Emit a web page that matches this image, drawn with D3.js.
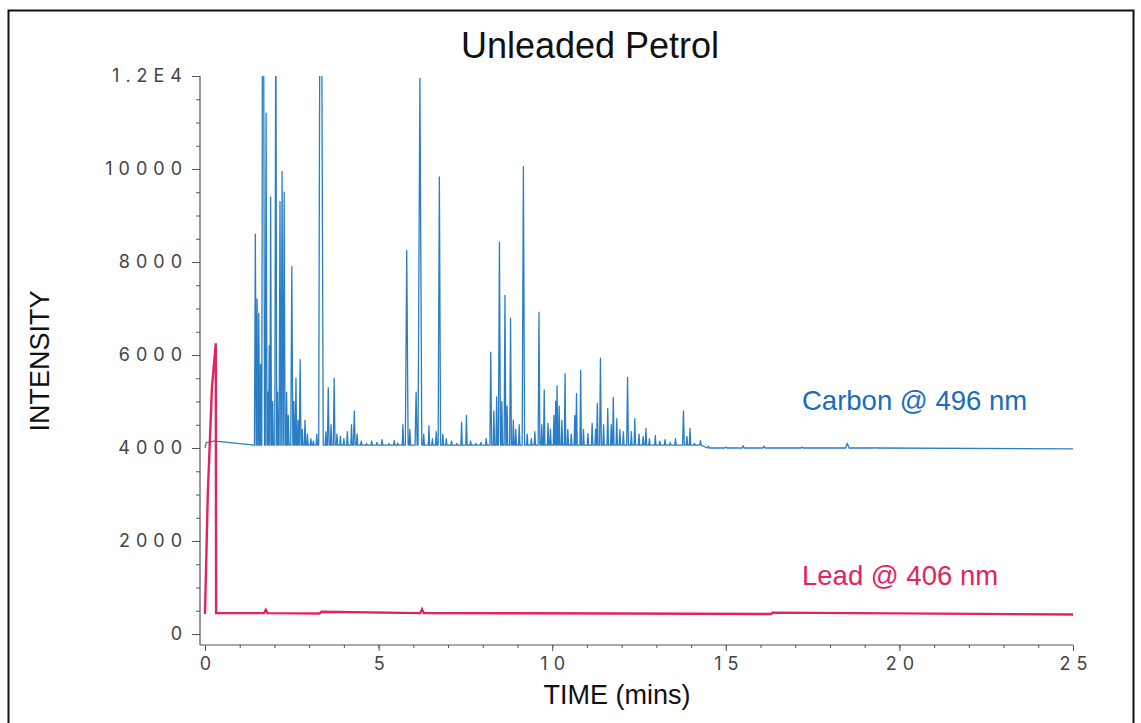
<!DOCTYPE html>
<html>
<head>
<meta charset="utf-8">
<script src="https://cdn.jsdelivr.net/npm/d3@7/dist/d3.min.js"></script>
<style>
  body { margin: 0; background: #fff; }
  .tick-num { font-family: Inter, "DejaVu Sans", sans-serif; }
</style>
</head>
<body>
<div id="chart"></div>
<script>
// peak table: time (mins), intensity at apex, half width (mins)
var carbonTimes = [0.06, 0.28, 1.45, 1.50, 1.55, 1.60, 1.67, 1.76, 1.81, 1.85, 1.89, 1.95, 2.04, 2.09, 2.16, 2.22, 2.28, 2.35, 2.40,
  2.50, 2.56, 2.62, 2.68, 2.74, 2.80, 2.88, 2.95, 3.05, 3.12, 3.22, 3.33, 3.48, 3.55, 3.63, 3.72, 3.80, 3.90, 4.00,
  4.10, 4.22, 4.30, 4.38, 4.50, 4.65, 4.80, 4.95, 5.10, 5.30, 5.45, 5.55, 5.70, 5.81, 5.90, 6.08, 6.19, 6.30, 6.45,
  6.55, 6.66, 6.75, 6.85, 6.95, 7.10, 7.25, 7.39, 7.53, 7.65, 7.80, 7.95, 8.10, 8.23, 8.32, 8.40, 8.48, 8.55, 8.64,
  8.70, 8.80, 8.88, 8.95, 9.05, 9.17, 9.28, 9.40, 9.50, 9.62, 9.70, 9.77, 9.88, 9.95, 10.05, 10.10, 10.14, 10.20,
  10.28, 10.37, 10.45, 10.55, 10.65, 10.70, 10.82, 10.90, 11.03, 11.15, 11.25, 11.30, 11.39, 11.48, 11.60, 11.70,
  11.76, 11.86, 11.95, 12.05, 12.17, 12.28, 12.38, 12.50, 12.62, 12.70, 12.80, 12.97, 13.10, 13.25, 13.40, 13.55,
  13.78, 13.88, 13.97, 14.10, 14.27, 14.50, 15.00, 15.50, 16.10, 17.20, 18.50, 19.30];
var carbonHeights = [4120, 4150, 8600, 7200, 6900, 5800, 20000, 11200, 5200, 6200, 9400, 5000, 14000, 5200, 9300, 9950, 9500, 5200, 4700,
  7900, 5000, 5500, 4600, 5900, 4400, 4600, 4300, 4200, 4150, 4300, 20000, 4350, 5300, 4500, 5500, 4300, 4250, 4200,
  4350, 4500, 4800, 4300, 4150, 4100, 4150, 4120, 4180, 4100, 4160, 4110, 4500, 8250, 4400, 5200, 11950, 4300, 4480,
  4200, 4350, 9830, 4300, 4200, 4150, 4100, 4550, 4700, 4150, 4100, 4120, 4200, 6060, 4800, 5100, 8430, 5000, 7280,
  4900, 6790, 4600, 4400, 4500, 10050, 4300, 4200, 4350, 6920, 4500, 5250, 4530, 4400, 4700, 5000, 5340, 4900,
  4600, 5600, 4400, 4300, 4700, 5170, 5670, 4400, 4310, 4530, 4400, 4960, 5930, 4500, 4850, 4500,
  5090, 4630, 4400, 4350, 5520, 4350, 4630, 4300, 4250, 4420, 4200, 4270, 4150, 4180, 4120, 4200,
  4800, 4250, 4420, 4100, 4160, 4040, 4020, 4050, 4040, 4020, 4100, 4010];
var carbonHalfWidths = [0.02, 0.02, 0.025, 0.02, 0.02, 0.02, 0.1, 0.025, 0.02, 0.02, 0.025, 0.02, 0.03, 0.02, 0.025, 0.025, 0.025, 0.02, 0.02,
  0.03, 0.02, 0.02, 0.02, 0.025, 0.02, 0.02, 0.02, 0.02, 0.02, 0.02, 0.115, 0.02, 0.025, 0.02, 0.025, 0.02, 0.02, 0.02,
  0.02, 0.02, 0.025, 0.02, 0.02, 0.02, 0.02, 0.02, 0.02, 0.02, 0.02, 0.02, 0.02, 0.04, 0.02, 0.03, 0.06, 0.02, 0.02,
  0.02, 0.02, 0.035, 0.02, 0.02, 0.02, 0.02, 0.02, 0.02, 0.02, 0.02, 0.02, 0.02, 0.025, 0.02, 0.02, 0.03, 0.02, 0.025,
  0.02, 0.025, 0.02, 0.02, 0.02, 0.035, 0.02, 0.02, 0.02, 0.025, 0.02, 0.02, 0.02, 0.02, 0.02, 0.02, 0.02, 0.02,
  0.02, 0.02, 0.02, 0.02, 0.02, 0.02, 0.02, 0.02, 0.02, 0.02, 0.02, 0.02, 0.025, 0.02, 0.02, 0.02,
  0.02, 0.02, 0.02, 0.02, 0.025, 0.02, 0.02, 0.02, 0.02, 0.02, 0.02, 0.02, 0.02, 0.02, 0.02, 0.02,
  0.025, 0.02, 0.02, 0.02, 0.02, 0.03, 0.03, 0.03, 0.03, 0.03, 0.05, 0.03];
var carbonBaseline = 4000;
var carbonValley = 4060;

// lead trace: only the injection spike then a flat line
var leadTimes = [0.0, 0.08, 0.2, 0.31, 0.32, 1.7, 1.75, 1.8, 3.3, 3.35, 6.2, 6.25, 6.3, 12.0, 16.3, 16.35, 25.0];
var leadValues = [430, 3000, 5300, 6250, 450, 450, 520, 450, 440, 480, 450, 530, 450, 440, 430, 460, 420];

var xTicks = [0, 5, 10, 15, 20, 25];
var yTicks = [0, 2000, 4000, 6000, 8000, 10000, 12000];
var yTickLabels = ["0", "2000", "4000", "6000", "8000", "10000", "1.2E4"];

var chartTitle = "Unleaded Petrol";
var xTitle = "TIME (mins)";
var yTitle = "INTENSITY";
var carbonLabel = "Carbon @ 496 nm";
var leadLabel = "Lead @ 406 nm";

var width = 1141, height = 723;

var svg = d3.select("#chart").append("svg")
  .attr("width", width)
  .attr("height", height);

// frame
svg.append("rect")
  .attr("x", 8.5).attr("y", 10.5)
  .attr("width", 1125).attr("height", 730)
  .attr("fill", "none").attr("stroke", "#111").attr("stroke-width", 2);

var x = d3.scaleLinear().domain([0, 25]).range([205, 1073]);
var y = d3.scaleLinear().domain([0, 12000]).range([634, 76]);

var axisX0 = 200, axisY0 = 645;

svg.append("clipPath").attr("id", "plot-clip")
  .append("rect").attr("x", 200).attr("y", y(12000)).attr("width", 880).attr("height", 600);

// build carbon trace points from the peak table
var peaks = carbonTimes.map((t, i) => ({ t: t, h: carbonHeights[i], w: carbonHalfWidths[i] }));
var carbonPts = [[0, carbonBaseline]];
peaks.forEach((p, i) => {
  var prev = peaks[i - 1], next = peaks[i + 1];
  var left = p.t - p.w, right = p.t + p.w;
  if (prev && left < (prev.t + p.t) / 2) left = (prev.t + p.t) / 2;
  if (next && right > (next.t + p.t) / 2) right = (next.t + p.t) / 2;
  var lv = p.t > 1.4 && p.t < 14.5 ? carbonValley : (p.t < 0.3 ? p.h : carbonBaseline);
  carbonPts.push([left, lv], [p.t, p.h], [right, lv]);
});
carbonPts.push([25, carbonBaseline - 20]);

var line = d3.line().x(d => x(d[0])).y(d => y(d[1]));

var plot = svg.append("g").attr("clip-path", "url(#plot-clip)");

plot.append("path")
  .datum(carbonPts)
  .attr("d", line)
  .attr("fill", "none")
  .attr("stroke", "#2a7ec6")
  .attr("stroke-width", 1.3)
  .attr("stroke-linejoin", "round");

var leadPts = leadTimes.map((t, i) => [t, leadValues[i]]);
plot.append("path")
  .datum(leadPts)
  .attr("d", line)
  .attr("fill", "none")
  .attr("stroke", "#e3245c")
  .attr("stroke-width", 2.4);

// axes
var axisColor = "#555";

svg.append("line")
  .attr("x1", axisX0).attr("x2", axisX0)
  .attr("y1", y(12000)).attr("y2", axisY0)
  .attr("stroke", axisColor).attr("stroke-width", 1.2);
svg.append("line")
  .attr("x1", axisX0).attr("x2", x(25))
  .attr("y1", axisY0).attr("y2", axisY0)
  .attr("stroke", axisColor).attr("stroke-width", 1.2);

var yMinor = svg.append("g").attr("transform", `translate(${axisX0},0)`)
  .call(d3.axisLeft(y).tickValues(d3.range(0, 12001, 500)).tickSize(4).tickFormat(""));
var yMajor = svg.append("g").attr("transform", `translate(${axisX0},0)`)
  .call(d3.axisLeft(y).tickValues(yTicks).tickSize(8).tickPadding(4)
    .tickFormat((d, i) => yTickLabels[i]));

var xMinor = svg.append("g").attr("transform", `translate(0,${axisY0})`)
  .call(d3.axisBottom(x).tickValues(d3.range(0, 26, 1)).tickSize(3).tickFormat(""));
var xMajor = svg.append("g").attr("transform", `translate(0,${axisY0})`)
  .call(d3.axisBottom(x).tickValues(xTicks).tickSize(6).tickPadding(6));

[yMinor, yMajor, xMinor, xMajor].forEach(g => {
  g.select(".domain").remove();
  g.selectAll(".tick line").attr("stroke", axisColor);
});

yMajor.selectAll(".tick text")
  .attr("class", "tick-num")
  .attr("font-size", 18)
  .attr("letter-spacing", "6px")
  .attr("fill", "#444");

xMajor.selectAll(".tick text")
  .attr("class", "tick-num")
  .attr("font-size", 18)
  .attr("letter-spacing", "6px")
  .attr("dx", "3px")
  .attr("fill", "#444");

// titles
svg.append("text")
  .attr("x", 590).attr("y", 58)
  .attr("text-anchor", "middle")
  .attr("font-family", "Liberation Sans, Arial, sans-serif")
  .attr("font-size", 36)
  .attr("fill", "#111")
  .text(chartTitle);

svg.append("text")
  .attr("x", 617).attr("y", 704)
  .attr("text-anchor", "middle")
  .attr("font-family", "Liberation Sans, Arial, sans-serif")
  .attr("font-size", 27)
  .attr("fill", "#111")
  .text(xTitle);

svg.append("text")
  .attr("transform", "translate(49,361) rotate(-90)")
  .attr("text-anchor", "middle")
  .attr("font-family", "Liberation Sans, Arial, sans-serif")
  .attr("font-size", 27)
  .attr("fill", "#111")
  .text(yTitle);

svg.append("text")
  .attr("x", 802).attr("y", 410)
  .attr("font-family", "Liberation Sans, Arial, sans-serif")
  .attr("font-size", 27.5)
  .attr("fill", "#1a6cc0")
  .text(carbonLabel);

svg.append("text")
  .attr("x", 802).attr("y", 585)
  .attr("font-family", "Liberation Sans, Arial, sans-serif")
  .attr("font-size", 27.5)
  .attr("fill", "#e3245c")
  .text(leadLabel);
</script>
</body>
</html>
